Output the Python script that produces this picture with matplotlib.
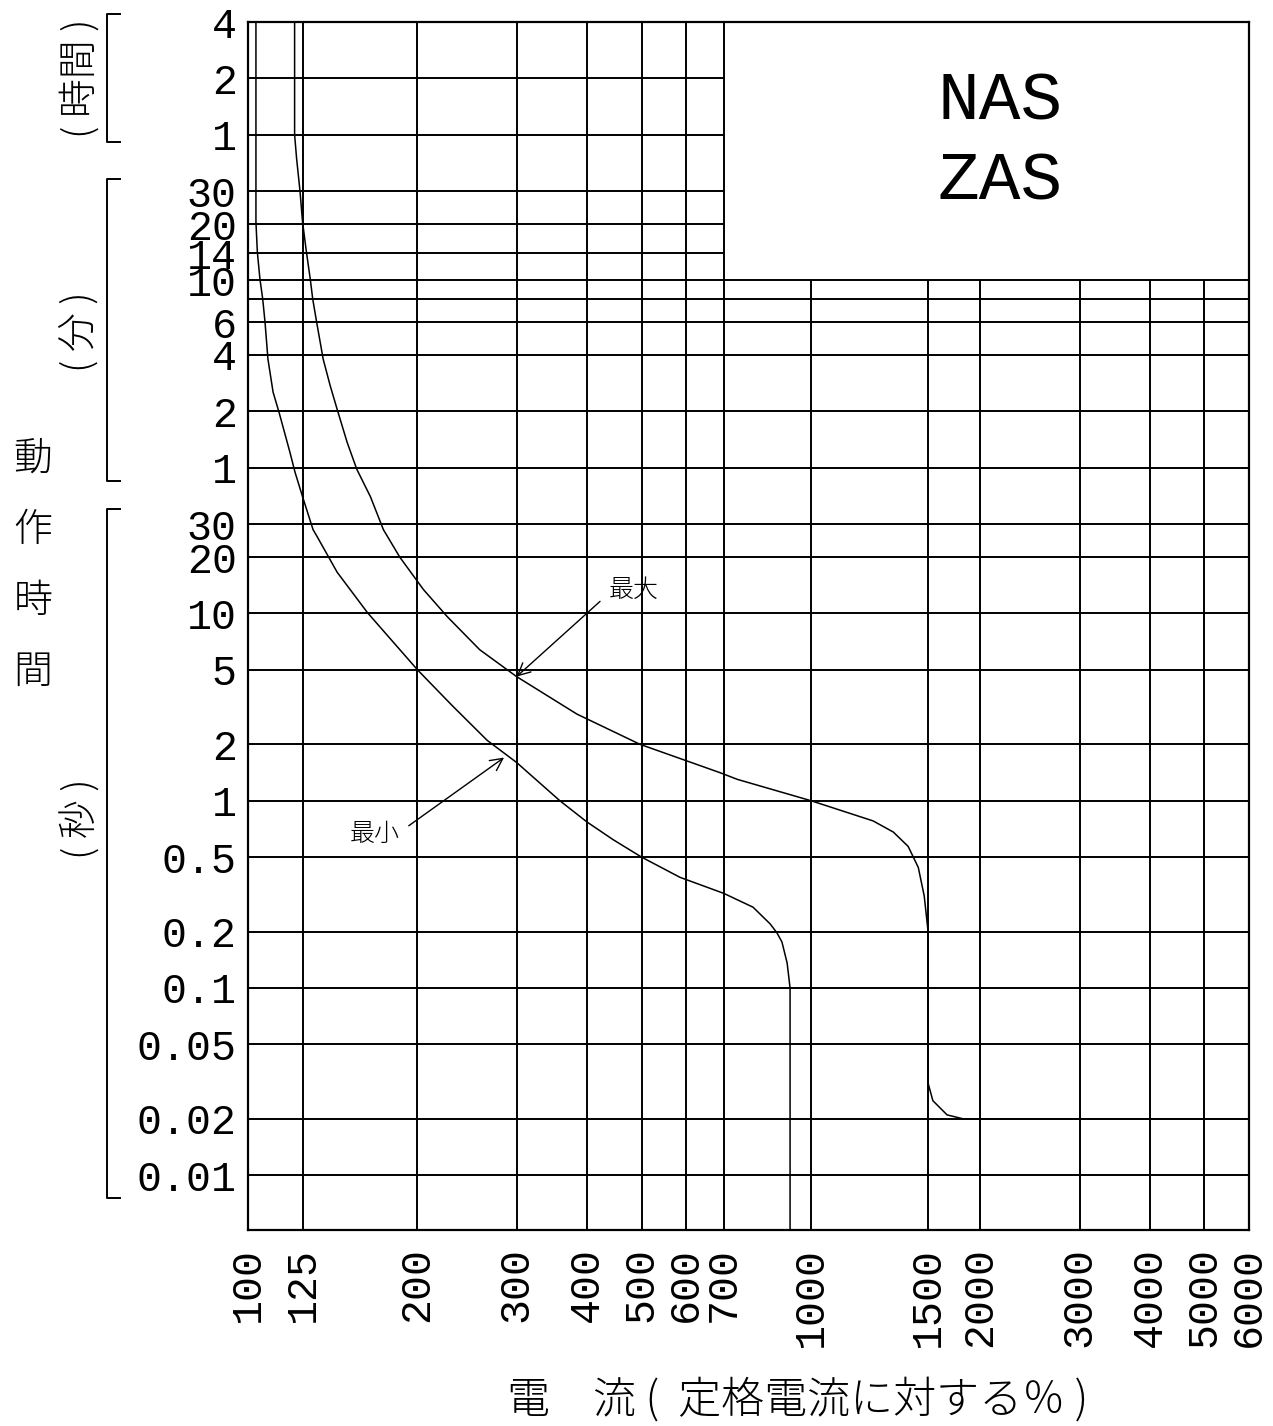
import numpy as np
import matplotlib
matplotlib.use("Agg")
import matplotlib.pyplot as plt
from matplotlib import transforms

# x: current as % of rated current, y: operating time in seconds
x_ticks = [100, 125, 200, 300, 400, 500, 600, 700, 1000, 1500, 2000, 3000, 4000, 5000, 6000]
x_labels = [str(v) for v in x_ticks]

y_ticks = [0.01, 0.02, 0.05, 0.1, 0.2, 0.5, 1, 2, 5, 10, 20, 30,
           60, 120, 240, 360, 480, 600, 840, 1200, 1800,
           3600, 7200, 14400]
y_labels = ["0.01", "0.02", "0.05", "0.1", "0.2", "0.5",
            "1", "2", "5", "10", "20", "30",
            "1", "2", "4", "6", "", "10", "14", "20", "30",
            "1", "2", "4"]

Y_MIN, Y_MAX = 0.0051, 14400
BOX_X, BOX_Y = 700, 600   # upper right region (NAS / ZAS box) has no grid

# 最大 (maximum) curve
max_x = [121, 121, 122, 123.7, 125, 127, 129, 130.3, 132.4, 136, 140, 144, 150, 156,
         165, 174, 186, 205, 226, 258, 300, 384, 497, 690, 740, 1000, 1240, 1330,
         1400, 1450, 1480, 1500, 1500, 1540, 1665, 1820, 6000]
max_y = [14400, 3600, 2680, 1800, 1230, 850, 610, 478, 360, 228, 164, 123, 82, 59,
         42, 28, 20, 13.4, 9.6, 6.4, 4.6, 2.9, 2.0, 1.41, 1.3, 1.0, 0.78, 0.68,
         0.57, 0.44, 0.31, 0.2, 0.031, 0.025, 0.021, 0.02, 0.02]

# 最小 (minimum) curve
min_x = [103.3, 103.3, 103.9, 105, 106.2, 107.2, 108.5, 110.8, 113.5, 118.7, 121.2,
         125, 130.5, 132.6, 144, 163, 200, 231, 266, 300, 358, 400, 445, 500, 585,
         700, 789, 846, 870, 888, 907, 918, 918]
min_y = [14400, 1230, 850, 611, 478, 360, 228, 152, 119, 72.6, 56.8,
         42, 28, 25.8, 16.6, 10.1, 5.0, 3.2, 2.1, 1.6, 1.0, 0.77, 0.62, 0.5, 0.39,
         0.32, 0.27, 0.22, 0.197, 0.176, 0.136, 0.1, Y_MIN]

# unit brackets on the left: label, lower, upper, label position
bracket_labels = ["( 時間 )", "( 分 )", "( 秒 )"]
bracket_lo = [3300, 51, 0.0076]
bracket_hi = [15800, 2100, 36]
bracket_label_y = [7200, 320, 0.8]

# the printed axis has the 1500 line slightly off a true log position
knot_val = np.log10([1, 100, 1000, 1500, 2000, 6000, 1e6])
knot_pos = [-2, 0, 1, 1.208, 1.301, 1.778, 4]


def fwd(x):
    x = np.clip(np.asarray(x, dtype=float), 1e-9, None)
    return np.interp(np.log10(x), knot_val, knot_pos)


def inv(p):
    return 10 ** np.interp(p, knot_pos, knot_val)


plt.rcParams['font.family'] = ['Liberation Mono', 'DejaVu Sans Mono']
CJK = ['Noto Sans CJK JP', 'DejaVu Sans']

fig = plt.figure(figsize=(12.73, 14.26), dpi=100)
ax = fig.add_axes([248 / 1273, 1 - 1230 / 1426, 1001 / 1273, 1208 / 1426])

ax.set_xscale('function', functions=(fwd, inv))
ax.set_yscale('log')
ax.set_xlim(100, 6000)
ax.set_ylim(Y_MIN, Y_MAX)

# grid, cut off where the title box sits
for y in y_ticks[:-1]:
    x_end = 6000 if y <= BOX_Y else BOX_X
    ax.hlines(y, 100, x_end, color='black', lw=1.4, zorder=1)
for x in x_ticks[1:-1]:
    y_end = Y_MAX if x <= BOX_X else BOX_Y
    ax.vlines(x, Y_MIN, y_end, color='black', lw=1.4, zorder=1)

ax.plot(max_x, max_y, color='black', lw=1.1, zorder=2)
ax.plot(min_x, min_y, color='black', lw=1.1, zorder=2)

ax.set_xticks(x_ticks)
ax.set_xticklabels(x_labels, rotation=90)
ax.set_yticks(y_ticks)
ax.set_yticklabels(y_labels)
ax.minorticks_off()
ax.tick_params(axis='both', length=0, labelsize=30)
ax.tick_params(axis='y', pad=8)
ax.tick_params(axis='x', pad=12)
for s in ax.spines.values():
    s.set_linewidth(1.6)

ax.set_xlabel("電　流 (  定格電流に対する％ )", family=CJK, fontsize=31,
              fontweight='light', va='center')
ax.xaxis.set_label_coords((798 - 248) / 1001, -(1400 - 1230) / 1208)

# title box text
ax.text(0.751, 0.9346, "NAS", transform=ax.transAxes, ha='center', va='center',
        fontsize=50)
ax.text(0.751, 0.868, "ZAS", transform=ax.transAxes, ha='center', va='center',
        fontsize=50)

# curve labels with arrows
arrow = dict(arrowstyle='->', color='black', lw=1.0, shrinkA=0, shrinkB=0,
             mutation_scale=22)
ax.annotate("", xy=(300, 4.6), xytext=(422, 11.6), arrowprops=arrow)
ax.text(485, 13.4, "最大", family=CJK, fontsize=18, fontweight='light',
        ha='center', va='center')
ax.annotate("", xy=(285, 1.70), xytext=(193, 0.735), arrowprops=arrow)
ax.text(168, 0.666, "最小", family=CJK, fontsize=18, fontweight='light',
        ha='center', va='center')

# unit brackets left of the tick labels
trans = transforms.blended_transform_factory(ax.transAxes, ax.transData)
bx, tx = -0.1409, -0.1279
for lab, lo, hi, ly in zip(bracket_labels, bracket_lo, bracket_hi, bracket_label_y):
    ax.plot([tx, bx, bx, tx], [hi, hi, lo, lo], color='black', lw=1.4,
            transform=trans, clip_on=False)
    ax.text(-0.1668, ly, lab, transform=trans, family=CJK, fontsize=28,
            fontweight='light', rotation=90, ha='center', va='center')

for i, ch in enumerate("動作時間"):
    fig.text(33 / 1273, 1 - (459 + 71 * i) / 1426, ch, family=CJK, fontsize=28,
             fontweight='light', ha='center', va='center')

fig.savefig("out.png", dpi=100, facecolor='white')
